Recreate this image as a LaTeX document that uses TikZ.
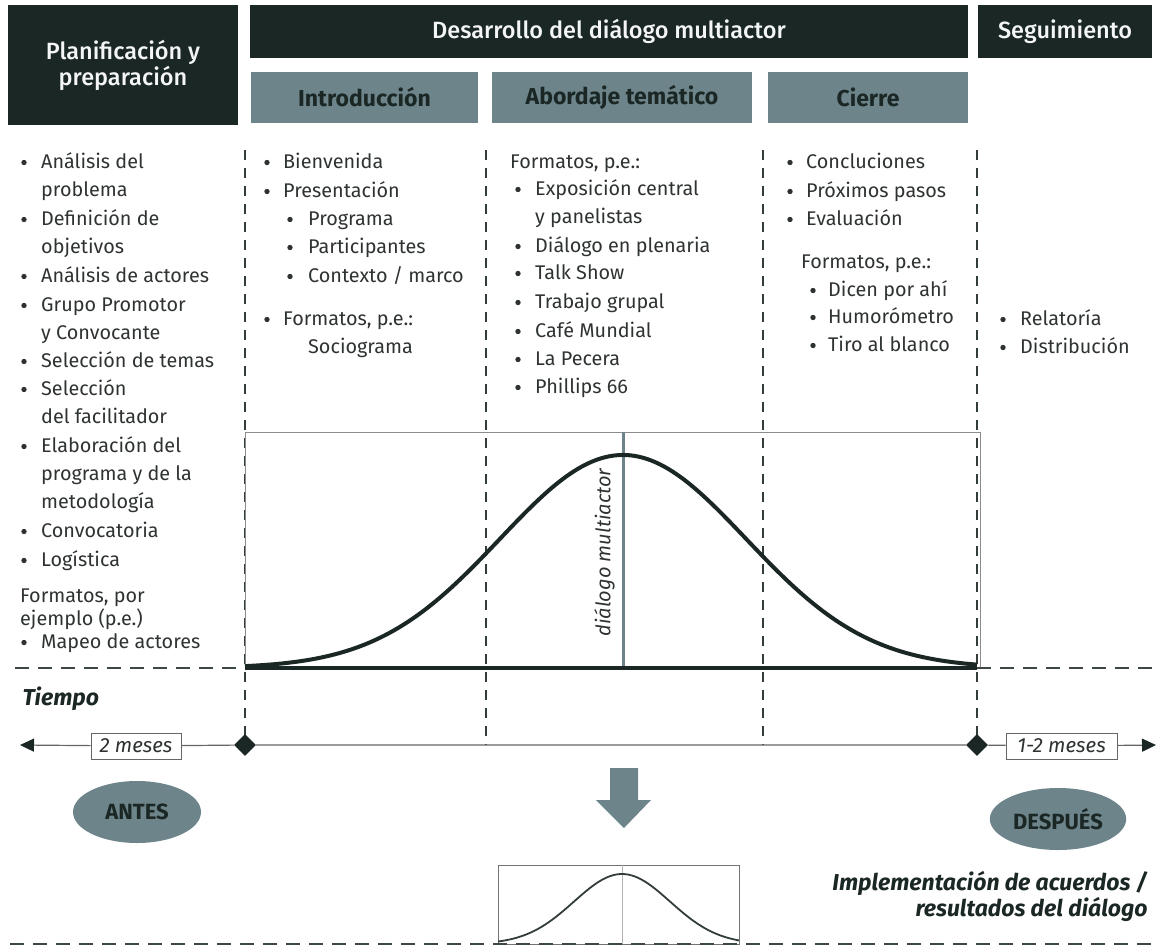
\documentclass[tikz,border=0pt]{standalone}
\usepackage{fontspec}
\setmainfont{Fira Sans}
\newfontfamily\medfont{Fira Sans Medium}
\usetikzlibrary{arrows.meta,shapes.geometric}
\definecolor{dark}{HTML}{1B2725}
\definecolor{slate}{HTML}{6D858A}
\definecolor{ink}{HTML}{2E3332}
\tikzset{
  item/.style={anchor=base west,inner sep=0pt,text=ink,font=\fontsize{19.8}{22}\selectfont},
  head/.style={fill=dark,text=white!92!slate,inner sep=0pt,align=center,font=\fontsize{23.5}{26}\selectfont\medfont},
  subhead/.style={fill=slate,text=dark,inner sep=0pt,minimum height=51,font=\fontsize{23}{25}\selectfont\bfseries},
  vdash/.style={dark!90,line width=1.8pt,dash pattern=on 10pt off 8pt},
  hdash/.style={dark!85,line width=1.8pt,dash pattern=on 14pt off 9pt},
  tline/.style={black!60,line width=1.2pt},
  mbox/.style={draw=black!60,line width=1pt,fill=white,inner sep=0pt,minimum height=26,text=ink,font=\fontsize{20.5}{22}\selectfont\itshape},
  diam/.style={diamond,fill=dark,inner sep=0pt,minimum size=22},
  oval/.style={ellipse,fill=slate,text=dark,minimum width=128,minimum height=62,font=\fontsize{22}{24}\selectfont\bfseries}
}
\begin{document}
\begin{tikzpicture}[x=1pt,y=-1pt,>={Triangle[length=14pt,width=13pt,color=dark]}]
\useasboundingbox (0,0) rectangle (1161,947);

\node[head,minimum width=230,minimum height=120] (plan) at (123,65) {Planificación y\\preparación};
\node[head,minimum width=718,minimum height=53] (desa) at (609,31.5) {Desarrollo del diálogo multiactor};
\node[head,minimum width=174,minimum height=53] (segu) at (1065,31.5) {Seguimiento};
\node[subhead,minimum width=227] (intro) at (364.5,97.5) {Introducción};
\node[subhead,minimum width=260] (abor) at (622,97.5) {Abordaje temático};
\node[subhead,minimum width=200] (cier) at (868,97.5) {Cierre};

\foreach \x/\n in {245/a,486/b,763/c,977/d}
{
  \coordinate (top\n) at (\x,150);
  \coordinate (bot\n) at (\x,745);
  \draw[vdash] (top\n) -- (bot\n);
}

\draw[black!45,line width=1pt] (245,432) rectangle (980,668);
\draw[slate,line width=3pt] (623,432) -- (623,668);
\node[rotate=90,text=ink,font=\fontsize{20}{22}\selectfont\itshape] (dm) at (604.5,552.5) {diálogo multiactor};
\draw[hdash] (15,668) -- (245,668);
\draw[hdash] (977,668) -- (1158,668);
\draw[dark,line width=3.5pt] (245,668) -- (977,668);
\draw[dark,line width=4pt,domain=245:977,samples=120,smooth] plot (\x,{668-213*exp(-((\x-623)/123)^2/2)});

\node[anchor=base west,text=dark,font=\fontsize{23}{25}\selectfont\bfseries\itshape] (tiempo) at (19,705) {Tiempo};
\coordinate (tl) at (20,745);
\coordinate (tr) at (1156,745);
\node[mbox,minimum width=90] (m2) at (136,746) {2 meses};
\node[diam] (dl) at (245,745) {};
\node[diam] (dr) at (977,745) {};
\node[mbox,minimum width=111] (m12) at (1061.5,746) {1-2 meses};
\draw[tline,<-] (tl) -- (m2);
\draw[tline] (m2) -- (dl) -- (dr) -- (m12);
\draw[tline,->] (m12) -- (tr);

\node[oval] (antes) at (137,812) {ANTES};
\node[oval] (despues) at (1058,819) {DESPUÉS};
\fill[slate] (610,768) -- (638,768) -- (638,800) -- (651,800) -- (624,828) -- (596,800) -- (610,800) -- cycle;

\draw[black!55,line width=1pt] (498,865) rectangle (739,944);
\draw[black!30,line width=1pt] (622,865) -- (622,944);
\draw[hdash] (10,944) -- (1158,944);
\draw[dark!90,line width=1.8pt,domain=498:739,samples=80,smooth] plot (\x,{944-70*exp(-((\x-622)/48)^2/2)});
\node[anchor=base east,text=dark,font=\fontsize{23}{25}\selectfont\bfseries\itshape] (impl1) at (1151,890) {Implementación de acuerdos /};
\node[anchor=base east,text=dark,font=\fontsize{23}{25}\selectfont\bfseries\itshape] (impl2) at (1151,916) {resultados del diálogo};

\foreach \y/\t [count=\i] in {168/Análisis del,196/problema,225/Definición de,253/objetivos,282/Análisis de actores,311/Grupo Promotor,339/y Convocante,367/Selección de temas,395/Selección,423/del facilitador,452/Elaboración del,480/programa y de la,508/metodología,537/Convocatoria,566/Logística,648/Mapeo de actores}
  \node[item] (pl\i) at (41,\y) {\t};
\node[item] (plf1) at (20,602) {Formatos, por};
\node[item] (plf2) at (20,625) {ejemplo (p.e.)};

\foreach \x/\y/\t [count=\i] in {283/168/Bienvenida,283/197/Presentación,308/225/Programa,308/253/Participantes,308/282/{Contexto / marco},283/325/{Formatos, p.e.:},308/353/Sociograma}
  \node[item] (in\i) at (\x,\y) {\t};

\foreach \x/\y/\t [count=\i] in {510/168/{Formatos, p.e.:},535/195/Exposición central,535/223/y panelistas,535/252/Diálogo en plenaria,535/279/Talk Show,535/308/Trabajo grupal,535/337/Café Mundial,535/365/La Pecera,535/393/Phillips 66}
  \node[item] (ab\i) at (\x,\y) {\t};

\foreach \x/\y/\t [count=\i] in {806/168/Concluciones,806/197/Próximos pasos,806/225/Evaluación,801/268/{Formatos, p.e.:},828/296/Dicen por ahí,828/323/Humorómetro,828/351/Tiro al blanco,1020/325/Relatoría,1020/353/Distribución}
  \node[item] (ci\i) at (\x,\y) {\t};

\foreach \x/\y in {24/168,24/225,24/282,24/311,24/367,24/395,24/452,24/537,24/566,24/648,267/168,267/197,267/325,290/225,290/253,290/282,518/195,518/252,518/279,518/308,518/337,518/365,518/393,790/168,790/197,790/225,813/296,813/323,813/351,1003/325,1003/353}
  \fill[ink] (\x,\y-5.5) circle (2.7);

\end{tikzpicture}
\end{document}
